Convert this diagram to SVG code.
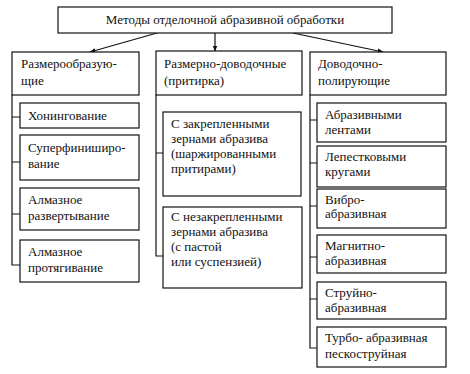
<svg xmlns="http://www.w3.org/2000/svg" width="470" height="374" viewBox="0 0 470 374">
<defs>
<marker id="ah" viewBox="0 0 10 10" refX="9" refY="5" markerWidth="6" markerHeight="6" orient="auto" markerUnits="userSpaceOnUse">
<path d="M0,1 L10,5 L0,9 Z" fill="#111"/>
</marker>
</defs>
<style>
rect{fill:#fff;stroke:#111;stroke-width:1.2}
text{font-family:"Liberation Serif","Times New Roman",serif;font-size:13px;fill:#111}
.c{stroke:#111;stroke-width:1.2;fill:none}
</style>
<rect x="0" y="0" width="470" height="374" style="stroke:none"/>
<g id="connectors">
<line class="c" x1="157" y1="33" x2="90" y2="52" marker-end="url(#ah)"/>
<line class="c" x1="215" y1="33" x2="215" y2="51" marker-end="url(#ah)"/>
<line class="c" x1="293" y1="33" x2="383" y2="52" marker-end="url(#ah)"/>
<path class="c" d="M12,95 V265 H20 M12,117 H20 M12,162 H20 M12,214 H20"/>
<path class="c" d="M156,95 V256 H163 M156,153 H163"/>
<path class="c" d="M310,95 V348 H317 M310,120 H317 M310,163 H317 M310,206 H317 M310,257 H317 M310,299 H317"/>
</g>
<g id="root">
<rect x="58" y="7" width="334" height="26"/>
<text x="225" y="24" text-anchor="middle">Методы отделочной абразивной обработки</text>
</g>
<g id="col1">
<rect x="12" y="52" width="127" height="43"/>
<text x="21" y="68">Размерообразую-</text>
<text x="21" y="85">щие</text>
</g>
<g id="col2">
<rect x="156" y="51" width="146" height="44"/>
<text x="164" y="68">Размерно-доводочные</text>
<text x="164" y="85">(притирка)</text>
</g>
<g id="col3">
<rect x="310" y="52" width="136" height="43"/>
<text x="318" y="68">Доводочно-</text>
<text x="318" y="85">полирующие</text>
</g>
<g id="honing">
<rect x="20" y="103" width="119" height="25"/>
<text x="28" y="120">Хонингование</text>
</g>
<g id="superfinish">
<rect x="20" y="135" width="119" height="45"/>
<text x="28" y="152">Суперфиниширо-</text>
<text x="28" y="168">вание</text>
</g>
<g id="razvert">
<rect x="20" y="188" width="119" height="42"/>
<text x="28" y="204">Алмазное</text>
<text x="28" y="220">развертывание</text>
</g>
<g id="protyag">
<rect x="20" y="240" width="119" height="42"/>
<text x="28" y="256">Алмазное</text>
<text x="28" y="272">протягивание</text>
</g>
<g id="zakrepl">
<rect x="163" y="112" width="138" height="84"/>
<text x="171" y="128">С закрепленными</text>
<text x="171" y="143">зернами абразива</text>
<text x="171" y="158">(шаржированными</text>
<text x="171" y="173">притирами)</text>
</g>
<g id="nezakrepl">
<rect x="163" y="207" width="139" height="81"/>
<text x="171" y="221">С незакрепленными</text>
<text x="171" y="236">зернами абразива</text>
<text x="171" y="251">(с пастой</text>
<text x="171" y="266">или суспензией)</text>
</g>
<g id="lenty">
<rect x="317" y="103" width="129" height="39"/>
<text x="325" y="119">Абразивными</text>
<text x="325" y="134">лентами</text>
</g>
<g id="krugi">
<rect x="317" y="146" width="129" height="41"/>
<text x="325" y="161">Лепестковыми</text>
<text x="325" y="176">кругами</text>
</g>
<g id="vibro">
<rect x="317" y="189" width="129" height="39"/>
<text x="325" y="204">Вибро-</text>
<text x="325" y="218">абразивная</text>
</g>
<g id="magnit">
<rect x="317" y="235" width="129" height="38"/>
<text x="325" y="250">Магнитно-</text>
<text x="325" y="265">абразивная</text>
</g>
<g id="struy">
<rect x="317" y="282" width="129" height="37"/>
<text x="325" y="297">Струйно-</text>
<text x="325" y="312">абразивная</text>
</g>
<g id="turbo">
<rect x="317" y="327" width="129" height="40"/>
<text x="325" y="342">Турбо- абразивная</text>
<text x="325" y="358">пескоструйная</text>
</g>
</svg>
